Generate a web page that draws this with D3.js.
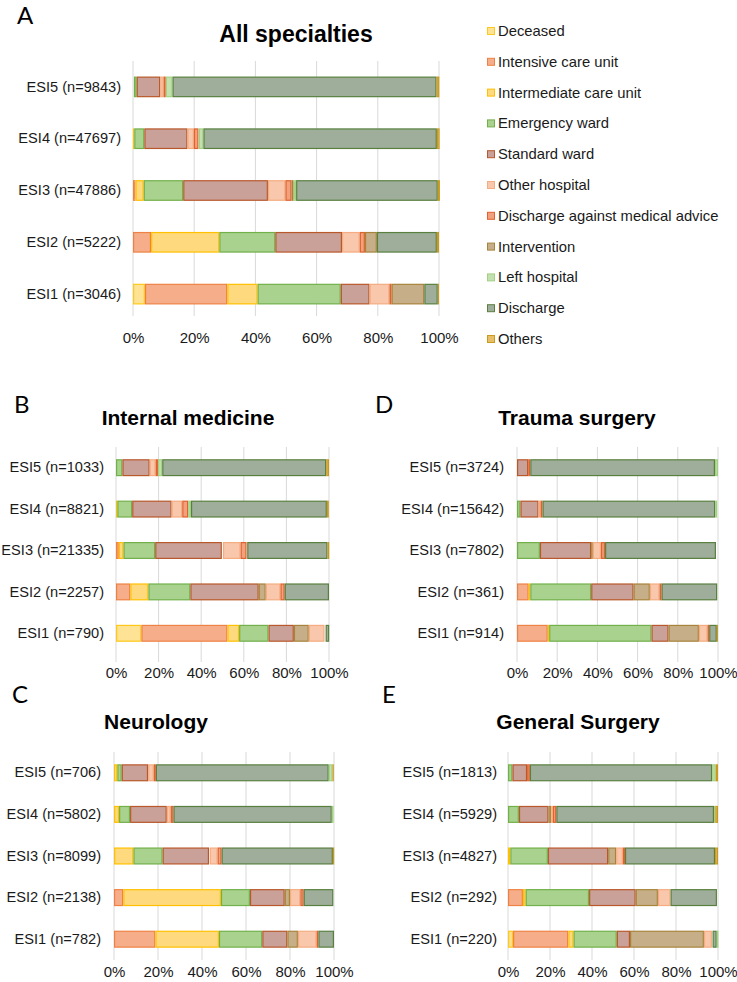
<!DOCTYPE html>
<html><head><meta charset="utf-8">
<script src="https://cdn.jsdelivr.net/npm/d3@7"></script>
<style>
body{margin:0;background:#fff;}
svg{display:block;font-family:"Liberation Sans",Arial,sans-serif;}
</style></head>
<body><svg id="c" width="737" height="982"></svg>
<script>
// Categories (legend order)
const categories = ["Deceased","Intensive care unit","Intermediate care unit","Emergency ward","Standard ward","Other hospital","Discharge against medical advice","Intervention","Left hospital","Discharge","Others"];
const fills   = ["#FFE394","#F6AE8A","#FFD97E","#A9D28E","#C9A199","#F9C7AC","#F2A07E","#C6AE88","#C3E1B0","#9EAE9A","#E8BF68"];
const strokes = ["#FFC91A","#EE8244","#FFC000","#72B04A","#B9582A","#F4AC80","#E0622D","#A8843A","#A2D184","#5A8040","#C99A1E"];
const esiLevels = ["ESI5","ESI4","ESI3","ESI2","ESI1"];
const tickValues = [0,20,40,60,80,100];

// n per ESI level (ESI5..ESI1)
const nAll = [9843,47697,47886,5222,3046];
const nInternal = [1033,8821,21335,2257,790];
const nTrauma = [3724,15642,7802,361,914];
const nNeuro = [706,5802,8099,2138,782];
const nGeneral = [1813,5929,4827,292,220];

// Percent values per ESI level (rows ESI5..ESI1), columns in legend order
const allSpecialties = [
  [0,0,0.3,0.9,7.7,1.1,0.7,0,2.2,86.3,0.9],
  [0,0,0.4,3.3,14.1,2.1,1.5,0.1,1.5,76.3,0.9],
  [0,0.8,2.7,12.9,27.7,5.7,2.0,0.7,0.8,46.3,0.7],
  [0,5.9,22.3,18.3,21.8,5.8,1.7,3.9,0,19.6,0.7],
  [3.9,26.9,9.9,27.2,9.4,6.5,0.7,10.7,0,4.4,0.4]
];
const internalMedicine = [
  [0,0,0,3.0,12.8,2.8,1.1,0,2.0,77.0,1.3],
  [0,0,0.6,7.0,18.5,5.0,2.8,0,1.3,63.8,0.9],
  [0,1.3,2.2,14.9,31.3,8.3,2.8,0.5,0.3,37.7,0.8],
  [0,6.7,8.5,19.7,32.1,6.9,2.0,3.3,0,20.8,0],
  [11.9,40.4,5.5,13.8,11.9,7.4,0.5,7.0,0,1.7,0]
];
const traumaSurgery = [
  [0,0,0,0,5.6,0,1.0,0,1.5,91.9,0],
  [0,0,0,1.7,9.0,1.0,1.0,0,1.0,85.9,0.5],
  [0,0,0,11.4,25.5,4.1,2.0,0.8,0.5,55.2,0.3],
  [0,5.8,0.8,30.3,21.1,4.8,1.0,8.1,0,27.7,0.4],
  [0,15.3,0.7,50.9,8.5,4.3,0.8,15.1,0,3.8,0.6]
];
const neurology = [
  [0,0,1.5,2.0,12.0,2.6,0.9,0,1.7,78.6,0.6],
  [0,0,2.3,5.0,16.7,1.8,1.2,0,0.8,72.0,0.3],
  [0,0,8.8,13.3,21.1,3.6,1.8,0.3,0,50.6,0.6],
  [0,4.2,44.4,13.2,15.8,4.7,1.5,2.4,0,13.5,0.3],
  [0,18.8,28.9,19.7,11.4,8.5,0.8,4.8,0,7.1,0]
];
const generalSurgery = [
  [0,0,0,2.1,7.0,0,1.3,0,1.7,86.8,1.1],
  [0,0,0,5.2,14.1,0.8,1.6,1.3,0.6,75.1,1.3],
  [0,0,1.1,17.9,28.7,3.2,1.0,3.8,0,42.9,1.4],
  [0,7.1,1.3,30.2,22.2,6.0,0,10.6,0,22.1,0.5],
  [2.4,26.3,2.5,20.6,6.3,3.8,0.3,35.2,0.8,2.0,0]
];
// stacking order (indices into categories) per panel
const orderA = [0,1,2,3,4,5,6,7,8,9,10];
const orderB = [0,1,2,3,4,7,5,6,8,9,10];
const orderCDE = [0,1,2,3,4,7,5,6,9,8,10];

const svg = d3.select("#c");
const FONT = "'Liberation Sans',Arial,sans-serif";

function panel(o){
  const g = svg.append("g");
  const x = d3.scaleLinear().domain([0,100]).range([o.x0,o.x1]);
  const y = d3.scaleBand().domain(esiLevels).range([o.top,o.bottom]).paddingInner(o.pad).paddingOuter(o.pad/2);
  g.selectAll(".grid").data(tickValues).join("line")
    .attr("x1",d=>x(d)).attr("x2",d=>x(d))
    .attr("y1",o.top).attr("y2",o.gridBottom)
    .attr("stroke","#D9D9D9").attr("stroke-width",1);
  esiLevels.forEach((lvl,i)=>{
    const row = o.data[i];
    let cum = 0;
    o.order.forEach(ci=>{
      const v = row[ci];
      if(v<=0) return;
      g.append("rect")
        .attr("x",x(cum)+0.6).attr("y",y(lvl)+0.6)
        .attr("width",Math.max(0,x(cum+v)-x(cum)-1.2)).attr("height",y.bandwidth()-1.2)
        .attr("fill",fills[ci]).attr("stroke",strokes[ci]).attr("stroke-width",1.2);
      cum += v;
    });
  });
  const ya = g.append("g").attr("transform",`translate(${o.labelX},0)`)
    .call(d3.axisLeft(y).tickSize(0).tickPadding(0).tickFormat((d,i)=>`${d} (n=${o.n[i]})`));
  ya.select(".domain").remove();
  ya.attr("font-family",FONT);
  ya.selectAll("text").attr("font-size",14.6).attr("fill","#1a1a1a");
  const xa = g.append("g").attr("transform",`translate(0,${o.tickY})`)
    .call(d3.axisBottom(x).tickValues(tickValues).tickSize(0).tickPadding(0).tickFormat(d=>d+"%"));
  xa.select(".domain").remove();
  xa.attr("font-family",FONT);
  xa.selectAll("text").attr("font-size",15).attr("fill","#1a1a1a").attr("dy",0).attr("y",0);
  g.append("text").attr("x",o.titleX).attr("y",o.titleY).attr("text-anchor","middle")
    .attr("font-weight","bold").attr("font-size",o.titleSize).attr("fill","#000").text(o.title);
  g.append("text").attr("x",o.letterX).attr("y",o.letterY)
    .attr("font-family","Lato,'Open Sans',sans-serif").attr("font-size",24).attr("fill","#000").text(o.letter);
}

panel({data:allSpecialties,n:nAll,order:orderA,x0:133,x1:439,top:61,bottom:320,gridBottom:316,pad:0.6,
  labelX:121,tickY:343,title:"All specialties",titleX:296,titleY:42,titleSize:23,letter:"A",letterX:17,letterY:24});
panel({data:internalMedicine,n:nInternal,order:orderB,x0:116,x1:329,top:447,bottom:654,gridBottom:662,pad:0.59,
  labelX:104,tickY:678,title:"Internal medicine",titleX:188,titleY:425,titleSize:21,letter:"B",letterX:14,letterY:413});
panel({data:traumaSurgery,n:nTrauma,order:orderCDE,x0:517,x1:718,top:447,bottom:654,gridBottom:662,pad:0.59,
  labelX:504,tickY:678,title:"Trauma surgery",titleX:577,titleY:425,titleSize:21,letter:"D",letterX:375,letterY:413});
panel({data:neurology,n:nNeuro,order:orderCDE,x0:114,x1:334,top:752,bottom:960,gridBottom:960,pad:0.59,
  labelX:101,tickY:977,title:"Neurology",titleX:156,titleY:729,titleSize:21,letter:"C",letterX:12,letterY:703});
panel({data:generalSurgery,n:nGeneral,order:orderCDE,x0:508,x1:718,top:752,bottom:960,gridBottom:960,pad:0.59,
  labelX:497,tickY:977,title:"General Surgery",titleX:578,titleY:729,titleSize:21,letter:"E",letterX:382,letterY:703});

const lg = svg.append("g");
categories.forEach((c,i)=>{
  const yy = 31 + i*30.8;
  lg.append("rect").attr("x",487.5).attr("y",yy-3.5).attr("width",7).attr("height",7)
    .attr("fill",fills[i]).attr("stroke",strokes[i]).attr("stroke-width",1);
  lg.append("text").attr("x",498).attr("y",yy+5).attr("font-size",14.8).attr("fill","#1a1a1a").text(c);
});
</script></body></html>
